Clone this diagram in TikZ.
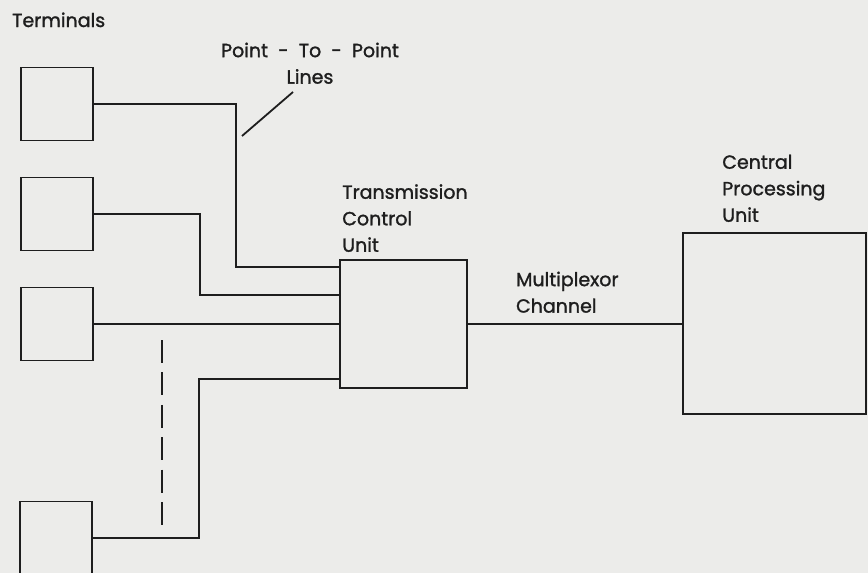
\documentclass[tikz,border=0pt]{standalone}
\usepackage{fontspec}
\setmainfont{Poppins}[FakeBold=1.2]
\newfontfamily\lblfont{Poppins}[FakeBold=1.4]
\usetikzlibrary{positioning,calc}
\definecolor{paper}{RGB}{236,236,234}
\definecolor{ink}{RGB}{30,30,30}

\begin{document}
\begin{tikzpicture}[x=1pt,y=-1pt,
		wire/.style={draw=ink,line width=1.8pt},
		term/.style={draw=ink,line width=1.8pt,inner sep=0pt,minimum width=72pt,minimum height=73pt},
		unit/.style={draw=ink,line width=1.8pt,inner sep=0pt},
		lbl/.style={text=ink,inner sep=0pt,align=left,font=\lblfont\fontsize{19pt}{26.5pt}\selectfont}]
	\fill[paper] (0,0) rectangle (868,573);
	\useasboundingbox (0,0) rectangle (868,573);
	% terminals
	\node[term] (term1) at (57,104) {};
	\node[term] (term2) at (57,214) {};
	\node[term] (term3) at (57,324) {};
	\node[term] (term4) at (56,538) {};
	% units
	\node[unit,minimum width=127pt,minimum height=128pt] (tcu) at (403.5,324) {};
	\node[unit,minimum width=183pt,minimum height=181pt] (cpu) at (774.5,323.5) {};
	%
	\coordinate (in1) at ($(tcu.north west)+(0,8)$);
	\coordinate (in2) at ($(tcu.north west)+(0,36)$);
	\coordinate (in4) at ($(tcu.south west)+(0,-10)$);
	\draw[wire] (term1.east) -| ($(in1)+(-103,0)$) -- (in1);
	\draw[wire] (term2.east) -| ($(in2)+(-139,0)$) -- (in2);
	\draw[wire] (term3.east) -- (term3.east -| tcu.west);
	\draw[wire] (term4.east) -| ($(in4)+(-140,0)$) -- (in4);
	\draw[wire] (tcu.east) -- (tcu.east -| cpu.west);
	% more terminals
	\coordinate (dots1) at (162,340);
	\coordinate (dots2) at (162,525);
	\draw[wire,dash pattern=on 23pt off 9.4pt] (dots1) -- (dots2);
	% labels
	\node[lbl,anchor=base west] (terms) at (12,27) {Terminals};
	\node[lbl,align=center,anchor=south] (ptp) at (310,84) {Point\ \ -\ \ To\ \ -\ \ Point\\Lines};
	\coordinate (lead1) at (242,136);
	\coordinate (lead2) at (293,92);
	\draw[wire] (lead1) -- (lead2);
	\node[lbl,above right=7pt and 3pt of tcu.north west] (tcutxt) {Transmission\\Control\\Unit};
	\node[lbl,above right=11pt and 48pt of tcu.east] (mpxtxt) {Multiplexor\\Channel};
	\node[lbl,above right=10pt and 40pt of cpu.north west] (cputxt) {Central\\Processing\\Unit};
\end{tikzpicture}
\end{document}
